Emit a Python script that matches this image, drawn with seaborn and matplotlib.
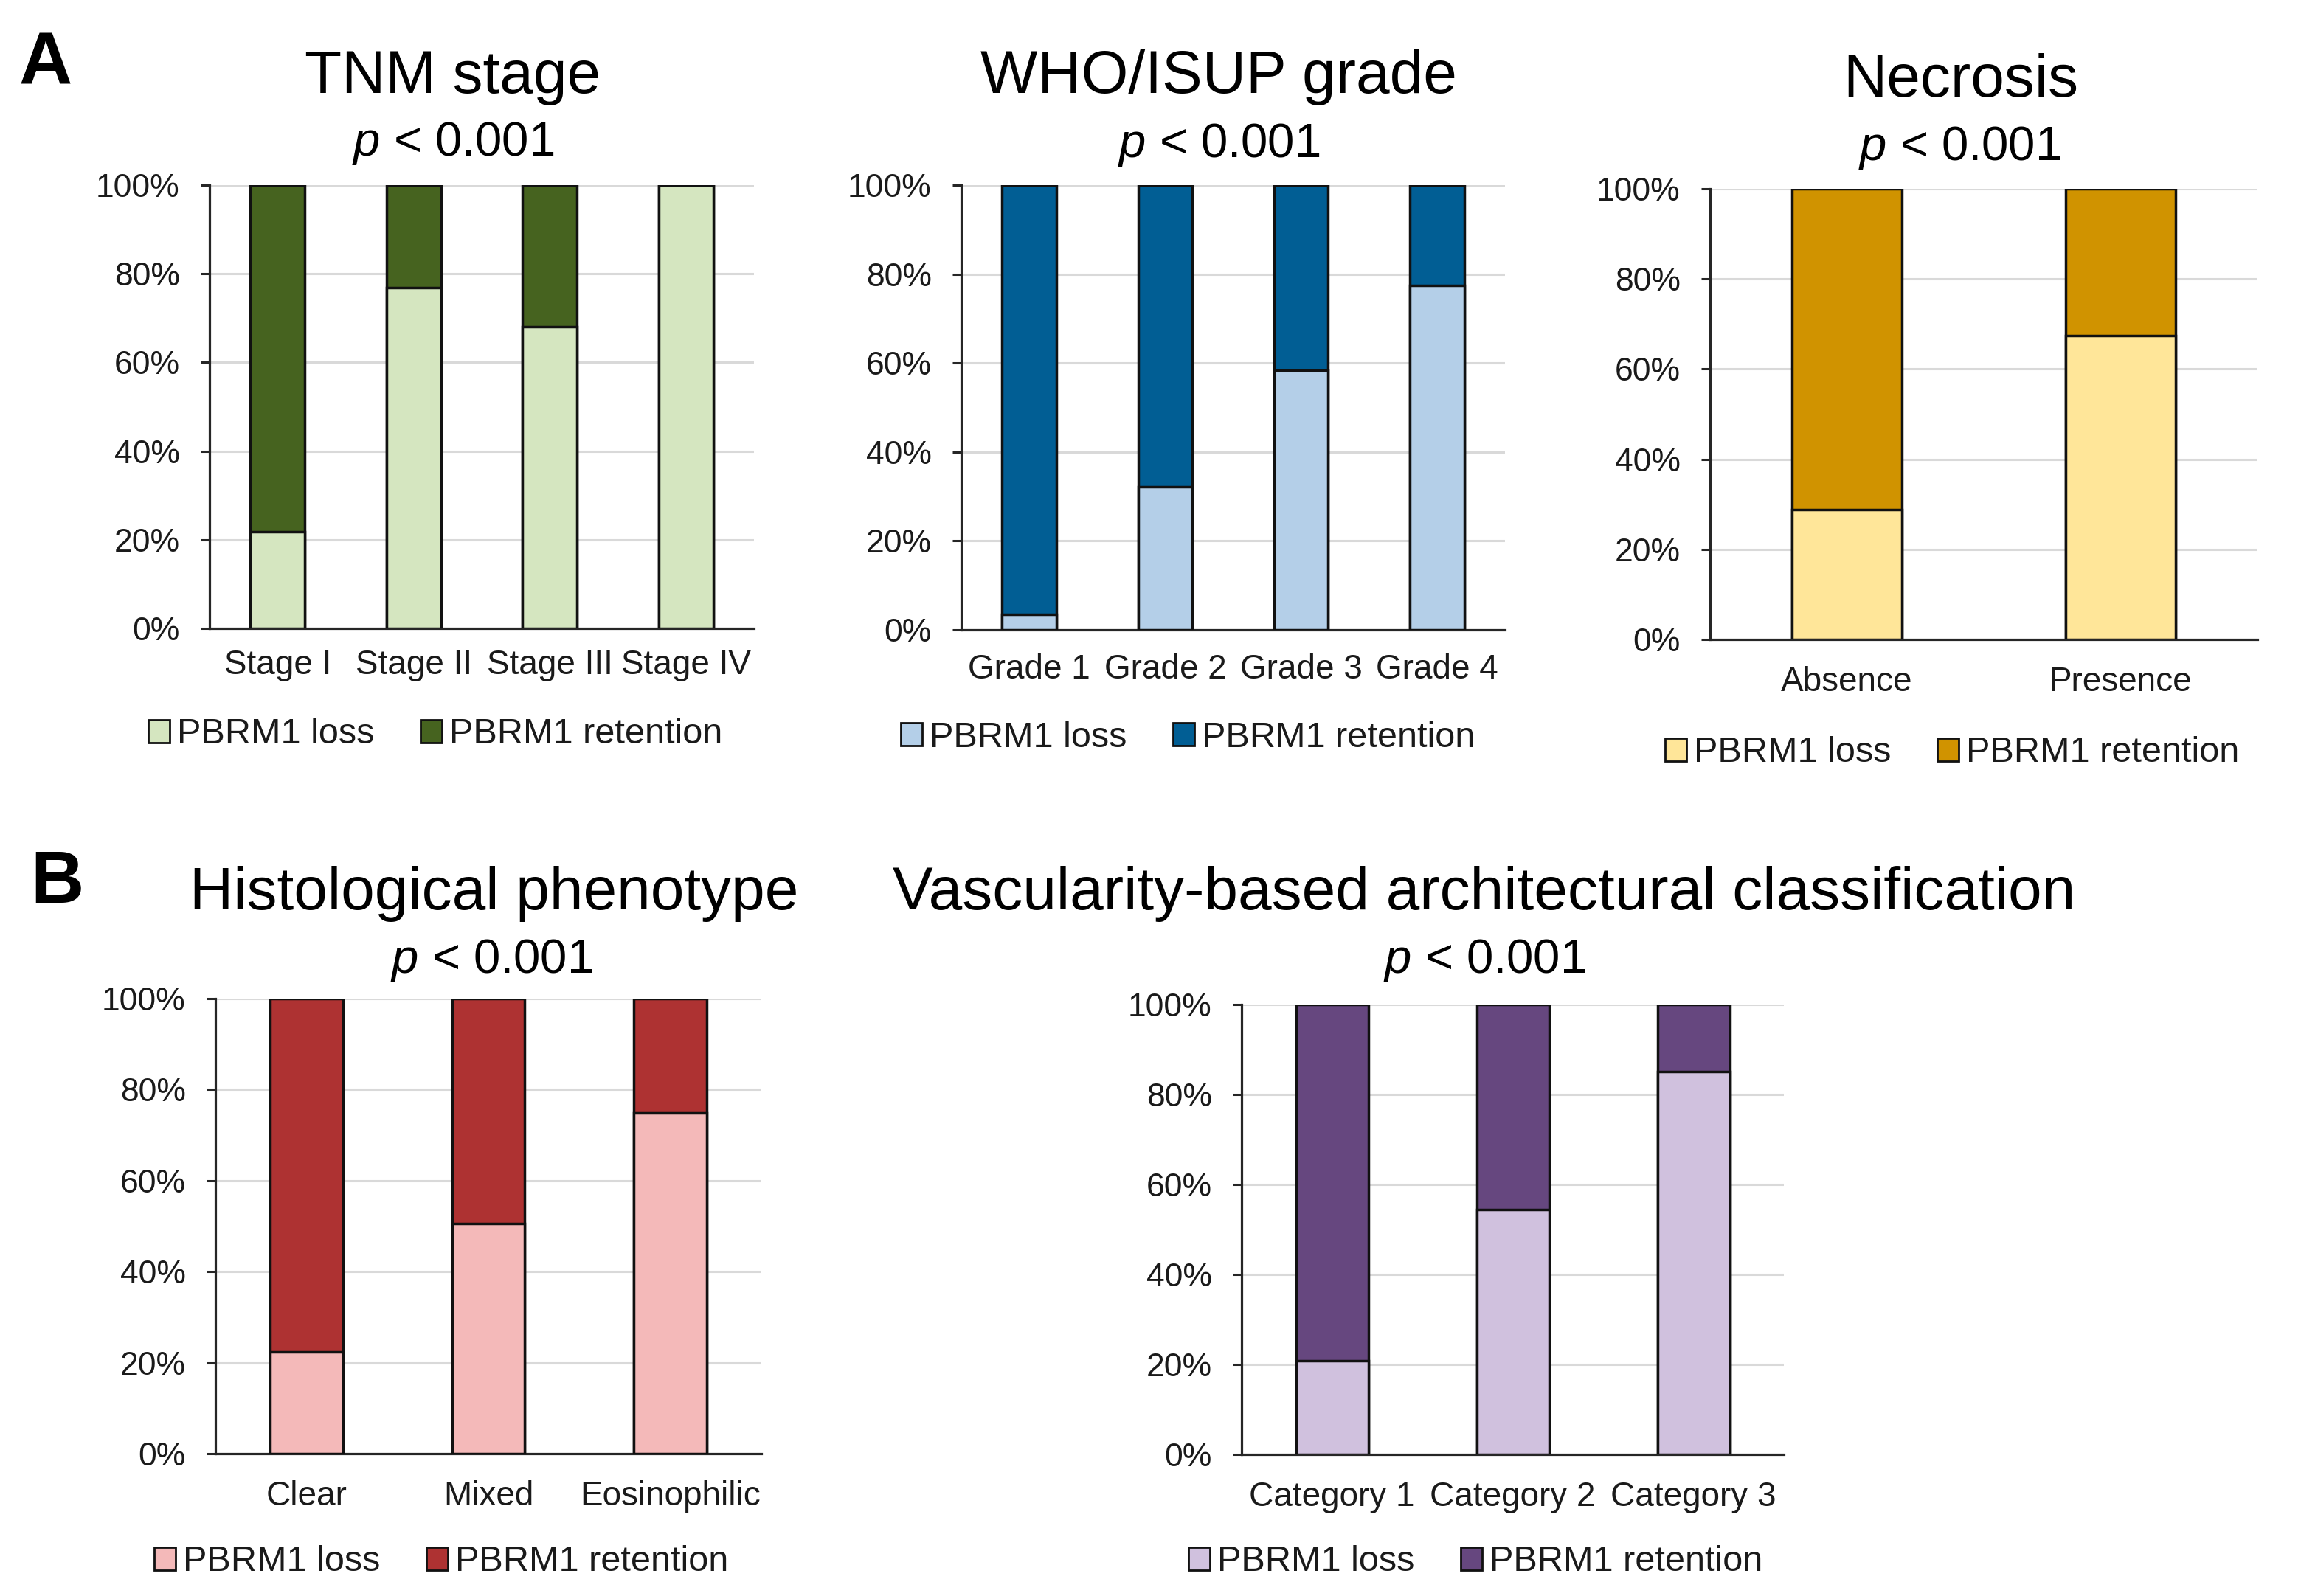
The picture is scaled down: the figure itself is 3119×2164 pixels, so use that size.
import numpy as np
import pandas as pd
import matplotlib
matplotlib.use("Agg")
import matplotlib.pyplot as plt
from matplotlib.patches import Patch
import seaborn as sns

# ---------------- data (percent) ----------------
tnm_cats = ["Stage I", "Stage II", "Stage III", "Stage IV"]
tnm_loss = [21.8, 76.8, 68.1, 100.0]
tnm_ret = [78.2, 23.2, 31.9, 0.0]

who_cats = ["Grade 1", "Grade 2", "Grade 3", "Grade 4"]
who_loss = [3.4, 32.1, 58.3, 77.4]
who_ret = [96.6, 67.9, 41.7, 22.6]

nec_cats = ["Absence", "Presence"]
nec_loss = [28.8, 67.5]
nec_ret = [71.2, 32.5]

his_cats = ["Clear", "Mixed", "Eosinophilic"]
his_loss = [22.4, 50.5, 74.8]
his_ret = [77.6, 49.5, 25.2]

vas_cats = ["Category 1", "Category 2", "Category 3"]
vas_loss = [20.8, 54.4, 85.1]
vas_ret = [79.2, 45.6, 14.9]

yticks = [0, 20, 40, 60, 80, 100]
ytick_labels = ["0%", "20%", "40%", "60%", "80%", "100%"]
series_names = ["PBRM1 loss", "PBRM1 retention"]

titles = ["TNM stage", "WHO/ISUP grade", "Necrosis",
          "Histological phenotype", "Vascularity-based architectural classification"]
ptext = r"$\it{p}$ < 0.001"

# ---------------- style ----------------
sns.set_theme(style="white")
plt.rcParams["font.family"] = ["Liberation Sans", "DejaVu Sans"]
plt.rcParams["mathtext.fontset"] = "custom"
plt.rcParams["mathtext.rm"] = "Liberation Sans"
plt.rcParams["mathtext.it"] = "Liberation Sans:italic"
plt.rcParams["mathtext.bf"] = "Liberation Sans:bold"

W, H = 3119, 2164
fig = plt.figure(figsize=(W / 100, H / 100), dpi=100)
fig.patch.set_facecolor("white")

TXT = "#1a1a1a"


def rect(l, r, t, b):
    return [l / W, 1 - b / H, (r - l) / W, (b - t) / H]


panels = [
    dict(cats=tnm_cats, loss=tnm_loss, ret=tnm_ret, c_loss="#d5e6c0", c_ret="#46631f",
         box=(284, 1022, 251, 852), title=titles[0], tpos=(614, 105), ppos=(614, 194),
         lpos=(590, 996), xpad=20),
    dict(cats=who_cats, loss=who_loss, ret=who_ret, c_loss="#b4cfe8", c_ret="#015e94",
         box=(1303, 2040, 251, 854), title=titles[1], tpos=(1652, 105), ppos=(1652, 196),
         lpos=(1610, 1000), xpad=23),
    dict(cats=nec_cats, loss=nec_loss, ret=nec_ret, c_loss="#ffe699", c_ret="#d09300",
         box=(2318, 3060, 256, 867), title=titles[2], tpos=(2658, 110), ppos=(2656, 200),
         lpos=(2646, 1021), xpad=26),
    dict(cats=his_cats, loss=his_loss, ret=his_ret, c_loss="#f4b9b9", c_ret="#ae3232",
         box=(292, 1032, 1354, 1971), title=titles[3], tpos=(670, 1212), ppos=(666, 1302),
         lpos=(598, 2118), xpad=26),
    dict(cats=vas_cats, loss=vas_loss, ret=vas_ret, c_loss="#d0c1de", c_ret="#66477f",
         box=(1683, 2418, 1362, 1972), title=titles[4], tpos=(2012, 1212), ppos=(2012, 1302),
         lpos=(2000, 2118), xpad=26),
]

for p in panels:
    ax = fig.add_axes(rect(*p["box"]))
    df = pd.DataFrame({"cat": p["cats"], "loss": p["loss"], "ret": p["ret"]})
    df["total"] = df["loss"] + df["ret"]
    ax.set_axisbelow(True)
    ax.yaxis.grid(True, color="#d9d9d9", linewidth=2.2)
    ax.xaxis.grid(False)
    sns.barplot(data=df, x="cat", y="total", color=p["c_ret"], saturation=1, width=0.4,
                edgecolor="#111111", linewidth=2.5, ax=ax, zorder=2)
    sns.barplot(data=df, x="cat", y="loss", color=p["c_loss"], saturation=1, width=0.4,
                edgecolor="#111111", linewidth=2.5, ax=ax, zorder=3)
    ax.set_xlabel("")
    ax.set_ylabel("")
    ax.set_ylim(0, 100)
    ax.set_xlim(-0.5, len(p["cats"]) - 0.5)
    ax.set_yticks(yticks)
    ax.set_yticklabels(ytick_labels)
    for s in ["top", "right"]:
        ax.spines[s].set_visible(False)
    for s in ["left", "bottom"]:
        ax.spines[s].set_color("#262626")
        ax.spines[s].set_linewidth(2.3)
    ax.tick_params(axis="y", length=9, width=2.2, color="#262626", pad=20,
                   labelsize=32, labelcolor=TXT, left=True)
    ax.tick_params(axis="x", length=0, pad=p["xpad"], labelsize=33, labelcolor=TXT)

    fig.text(p["tpos"][0] / W, 1 - p["tpos"][1] / H, p["title"], ha="center", va="center",
             fontsize=59, color="black")
    fig.text(p["ppos"][0] / W, 1 - p["ppos"][1] / H, ptext, ha="center", va="center",
             fontsize=47, color="black")

    handles = [Patch(facecolor=p["c_loss"], edgecolor="#111111", linewidth=2),
               Patch(facecolor=p["c_ret"], edgecolor="#111111", linewidth=2)]
    fig.legend(handles, series_names, loc="center",
               bbox_to_anchor=(p["lpos"][0] / W, 1 - p["lpos"][1] / H),
               ncol=2, frameon=False, fontsize=35, handlelength=0.6, handleheight=0.6,
               handletextpad=0.2, columnspacing=1.3, labelcolor=TXT)

fig.text(62 / W, 1 - 88 / H, "A", ha="center", va="center", fontsize=72,
         fontweight="bold", color="black")
fig.text(77 / W, 1 - 1198 / H, "B", ha="center", va="center", fontsize=72,
         fontweight="bold", color="black")

fig.savefig("out.png", dpi=100, facecolor="white")
